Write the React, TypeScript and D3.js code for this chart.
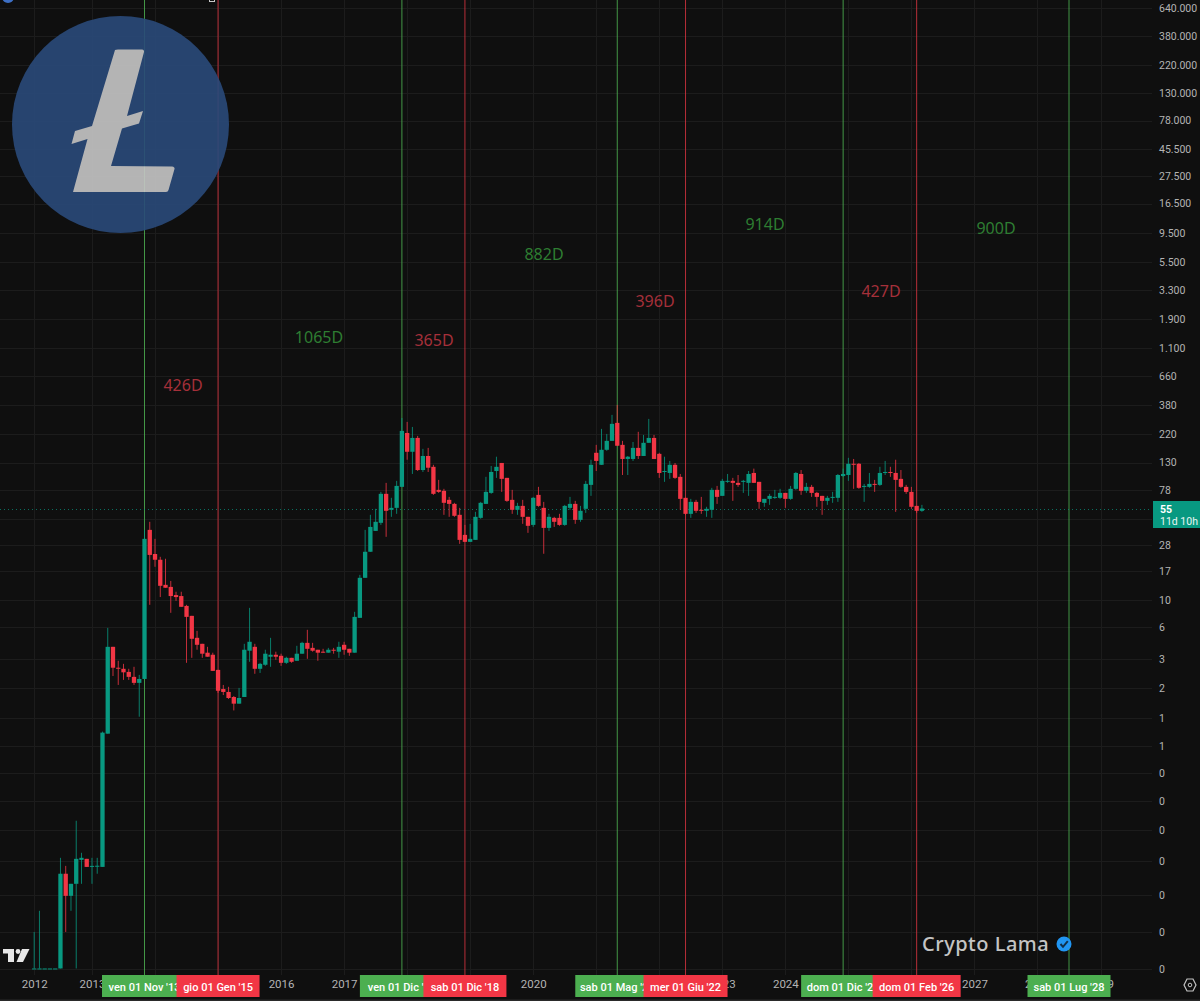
import { useEffect, useRef } from 'react';
import * as d3 from 'd3';

// monthly LTC candles, first bar Feb 2012
const firstMonth = new Date(2012, 1, 1);

const opens = [
  0.0101, 0.0101, 0.0101, 0.0101, 0.0101, 0.0101, 0.0594, 0.0393, 0.0492, 0.077,
  0.0785, 0.068, 0.0688, 0.0675, 0.816, 4.14, 2.8, 2.745, 2.59, 2.36,
  2.11, 2.27, 36.9, 23.5, 21.1, 13.2, 12.7, 10.9, 10.7, 8.9,
  7.39, 4.9, 4.38, 3.71, 3.57, 2.69, 1.88, 1.78, 1.62, 1.43,
  1.62, 3.85, 4.14, 2.745, 2.96, 3.44, 3.57, 3.5, 3.07, 3.37,
  3.19, 3.64, 4.46, 4.06, 3.92, 3.78, 3.71, 3.92, 3.78, 4.3,
  3.99, 3.71, 7.12, 15.05, 24.5, 36.2, 42.1, 72.4, 53.7, 55.7,
  82.5, 226, 159, 206, 113, 147, 120, 78, 76.6, 64.7,
  60, 48.9, 33.6, 29.5, 30.6, 46.2, 60, 73.7, 111, 129,
  97.6, 64.7, 53.7, 57.8, 47.1, 40.5, 71, 55.7, 38.3, 46.2,
  46.2, 40.5, 55.7, 60, 44.5, 54.7, 85.6, 156, 124.6, 165,
  195, 273, 181, 139, 139, 171, 147, 188, 206, 153,
  109, 107, 124.6, 99.5, 67.2, 49.8, 62.3, 53.7, 52.7, 53.7,
  78, 69.7, 90.6, 92.3, 88.9, 90.6, 88.9, 107, 90.6, 61.2,
  65.9, 67.2, 67.2, 73.7, 65.9, 79.5, 105, 76.6, 82.5, 73.7,
  69.7, 63.5, 67.2, 67.2, 101, 103, 127, 127, 82.5, 82.5,
  87.2, 85.6, 107, 109, 107, 95.8, 82.5, 75.1, 57.8, 52.7,
];
const highs = [
  0.02, 0.0297, 0.0101, 0.0101, 0.0101, 0.08, 0.0688, 0.0492, 0.16, 0.0879,
  0.0785, 0.08, 0.08, 0.848, 5.9, 4.14, 3.19, 3.01, 2.745, 2.85,
  2.45, 36.9, 42.9, 31.2, 22.3, 21.5, 14.2, 11.6, 11.6, 9.08,
  7.39, 5.58, 4.38, 4.14, 3.71, 2.69, 2.03, 1.96, 1.65, 1.92,
  4.38, 8.58, 4.38, 3.07, 3.92, 4.9, 3.78, 3.64, 3.44, 3.37,
  4.22, 4.55, 5.69, 4.46, 3.92, 3.99, 4.06, 4.06, 4.55, 4.55,
  3.99, 7.97, 15.9, 36.9, 48.9, 54.7, 75.1, 88.9, 67.2, 92.3,
  299, 278, 253, 214, 168, 171, 124.6, 94, 79.5, 68.4,
  61.2, 55.7, 40.5, 41.3, 51.7, 62.3, 99.5, 122, 145, 129,
  97.6, 78, 61.2, 64.7, 47.1, 68.4, 82.5, 62.3, 49.8, 47.1,
  49.8, 58.9, 68.4, 63.5, 57.8, 92.3, 137, 181, 244, 222,
  317, 382, 195, 147, 191, 231, 218, 294, 218, 156,
  145, 134, 129, 105, 67.2, 65.9, 64.7, 68.4, 56.8, 81,
  84, 95.8, 105, 97.6, 103, 94, 111, 116, 90.6, 65.9,
  72.4, 78, 79.5, 73.7, 84, 109, 113, 88.9, 85.6, 75.1,
  69.7, 69.7, 75.1, 105, 116, 142, 139, 129, 87.2, 107,
  94, 120, 134, 120, 137, 113, 85.6, 82.5, 57.8, 58.9,
];
const lows = [
  0.0101, 0.0101, 0.0101, 0.0101, 0.0101, 0.0101, 0.02, 0.0297, 0.0101, 0.0492,
  0.0675, 0.0492, 0.0594, 0.0675, 0.816, 2.4, 2.03, 2.23, 2.23, 2.03,
  1.12, 2.27, 9.08, 18.5, 10.5, 12.5, 7.82, 9.78, 8.75, 3.07,
  3.37, 3.92, 3.37, 3.44, 2.64, 1.75, 1.68, 1.56, 1.26, 1.43,
  1.62, 3.13, 2.5, 2.54, 2.9, 2.85, 3.25, 2.9, 3.01, 3.07,
  3.19, 3.64, 3.31, 3.78, 3.19, 3.71, 3.71, 3.64, 3.37, 3.57,
  3.5, 3.71, 7.12, 15.05, 24.5, 36.2, 40.5, 32.4, 47.1, 49.8,
  82.5, 137, 105, 111, 109, 109, 71, 73.7, 48.9, 47.1,
  47.1, 28.4, 29.5, 29.5, 30.6, 45.4, 60, 72.4, 97.6, 75.1,
  62.3, 49.8, 48.9, 41.3, 34.9, 39, 56.8, 23.6, 36.2, 39,
  39.8, 39.8, 53.7, 41.3, 42.9, 50.7, 69.7, 111, 124.6, 162,
  195, 178, 103, 103, 134, 139, 147, 188, 139, 97.6,
  90.6, 95.8, 95.8, 53.7, 48.9, 46.2, 50.7, 49.8, 47.1, 46.2,
  60, 69.7, 88.9, 63.5, 82.5, 73.7, 69.7, 88.9, 54.7, 56.8,
  58.9, 65.9, 65.9, 55.7, 64.7, 78, 71, 73.7, 68.4, 56.8,
  48.9, 58.9, 61.2, 62.3, 99.5, 92.3, 79.5, 79.5, 62.3, 81,
  75.1, 84, 103, 99.5, 51.7, 81, 72.4, 54.7, 50.7, 51.7,
];
const closes = [
  0.0101, 0.0101, 0.0101, 0.0101, 0.0101, 0.0594, 0.0393, 0.0492, 0.0785, 0.08,
  0.0675, 0.0688, 0.069, 0.832, 4.14, 2.8, 2.79, 2.57, 2.36, 2.11,
  2.27, 31.2, 23.1, 21.1, 12.96, 12.5, 10.7, 10.5, 8.75, 7.25,
  4.81, 4.3, 3.64, 3.44, 2.64, 1.82, 1.78, 1.59, 1.43, 1.59,
  3.92, 4.55, 2.745, 3.01, 3.64, 3.57, 3.44, 3.07, 3.37, 3.13,
  3.64, 4.46, 3.99, 3.85, 3.71, 3.76, 3.92, 3.85, 4.14, 3.92,
  3.71, 7.25, 15.05, 24.5, 39, 42.9, 72.4, 52.7, 55.7, 84,
  235, 159, 206, 113, 147, 118, 72.4, 75.1, 61.2, 60,
  48, 30.6, 29.5, 31.2, 47.1, 61.2, 75.1, 109, 120, 95.8,
  63.5, 53.7, 57.8, 47.1, 39.8, 67.2, 57.8, 38.3, 47.1, 42.9,
  40.5, 57.8, 60, 44.5, 52.7, 87.2, 124.6, 134, 165, 195,
  268, 178, 139, 145, 171, 147, 188, 206, 139, 107,
  111, 124.6, 97.6, 65.9, 49.8, 62.3, 52.7, 52.7, 54.7, 78,
  68.4, 92.3, 92.3, 88.9, 85.6, 92.3, 105, 88.9, 62.3, 65.9,
  69.7, 68.4, 73.7, 65.9, 79.5, 107, 76.6, 82.5, 73.7, 68.4,
  63.5, 67.2, 68.4, 103, 105, 127, 126, 81, 84, 87.2,
  85.6, 107, 109, 107, 94, 82.5, 75.1, 56.8, 52.7, 55,
];

const priceTicks = [
  640000, 380000, 220000, 130000, 78000, 45500, 27500, 16500, 9500, 5500, 3300, 1900, 1100, 660, 380, 220, 130, 78, 45,
  28, 17, 10, 6, 3.3, 1.9, 1.1, 0.65, 0.39, 0.23, 0.135, 0.075, 0.04, 0.02, 0.01,
];
const yearTicks = [2012, 2013, 2014, 2015, 2016, 2017, 2018, 2019, 2020, 2021, 2022, 2023, 2024, 2025, 2026, 2027, 2028, 2029];

// cycle markers, drawn in this order so the later tag covers the earlier one
const cycleDates = [
  new Date(2013, 10, 1),
  new Date(2015, 0, 1),
  new Date(2017, 11, 1),
  new Date(2018, 11, 1),
  new Date(2021, 4, 1),
  new Date(2022, 5, 1),
  new Date(2024, 11, 1),
  new Date(2026, 1, 1),
  new Date(2028, 6, 1),
];
const cycleLabels = [
  "ven 01 Nov '13",
  "gio 01 Gen '15",
  "ven 01 Dic '17",
  "sab 01 Dic '18",
  "sab 01 Mag '21",
  "mer 01 Giu '22",
  "dom 01 Dic '24",
  "dom 01 Feb '26",
  "sab 01 Lug '28",
];
const cycleKinds = ['up', 'down', 'up', 'down', 'up', 'down', 'up', 'down', 'up'];
const durationLabels = ['426D', '1065D', '365D', '882D', '396D', '914D', '427D', '900D'];
const durationKinds = ['down', 'up', 'down', 'up', 'down', 'up', 'down', 'up'];

const lastPrice = 55;

const WIDTH = 1200;
const HEIGHT = 1001;
const PLOT_RIGHT = 1152;
const FONT = '"Noto Sans", sans-serif';
const AXIS_FONT = 'Roboto, sans-serif';
const UP = '#089981';
const DOWN = '#f23645';

export default function App() {
  const svgRef = useRef<SVGSVGElement>(null);

  useEffect(() => {
    if (!svgRef.current) return;
    const svg = d3.select(svgRef.current);
    svg.selectAll('*').remove();

    const x = d3.scaleLinear().domain([0, 197]).range([34.2, 1069]);
    const y = d3.scaleLog().domain([0.01, 640000]).range([969, 8]);
    const monthIdx = (d: Date) => d3.timeMonth.count(firstMonth, d);
    const yearIdx = (yr: number) => Math.max(0, monthIdx(new Date(yr, 0, 1)));
    const it = d3.formatLocale({ decimal: ',', thousands: '.', grouping: [3], currency: ['€', ''] }).format(',.0f');

    svg.append('rect').attr('width', WIDTH).attr('height', HEIGHT).attr('fill', '#0f0f0f');

    // grid
    const grid = svg.append('g').attr('stroke', '#1c1c1c').attr('stroke-width', 1);
    grid
      .selectAll('line.h')
      .data(priceTicks)
      .join('line')
      .attr('class', 'h')
      .attr('x1', 0)
      .attr('x2', PLOT_RIGHT)
      .attr('y1', (d) => Math.round(y(d)) + 0.5)
      .attr('y2', (d) => Math.round(y(d)) + 0.5);
    grid
      .selectAll('line.v')
      .data(yearTicks)
      .join('line')
      .attr('class', 'v')
      .attr('x1', (d) => Math.round(x(yearIdx(d))) + 0.5)
      .attr('x2', (d) => Math.round(x(yearIdx(d))) + 0.5)
      .attr('y1', 0)
      .attr('y2', 975);

    // cycle lines
    svg
      .append('g')
      .selectAll('line')
      .data(cycleDates)
      .join('line')
      .attr('x1', (d) => x(monthIdx(d)))
      .attr('x2', (d) => x(monthIdx(d)))
      .attr('y1', 0)
      .attr('y2', 975)
      .attr('stroke', (_, i) => (cycleKinds[i] === 'up' ? '#4caf50' : '#d5343f'))
      .attr('stroke-opacity', 0.85)
      .attr('stroke-width', 1);

    // last price line
    const lastY = Math.round(y(lastPrice)) + 0.5;
    svg
      .append('line')
      .attr('x1', 0)
      .attr('x2', PLOT_RIGHT)
      .attr('y1', lastY)
      .attr('y2', lastY)
      .attr('stroke', UP)
      .attr('stroke-opacity', 0.7)
      .attr('stroke-dasharray', '1 3');

    // candles
    const bars = d3.range(opens.length);
    const candles = svg.append('g');
    candles
      .selectAll('line')
      .data(bars)
      .join('line')
      .attr('x1', (i) => x(i))
      .attr('x2', (i) => x(i))
      .attr('y1', (i) => y(highs[i]))
      .attr('y2', (i) => y(lows[i]))
      .attr('stroke', (i) => (closes[i] >= opens[i] ? UP : DOWN))
      .attr('stroke-opacity', 0.8)
      .attr('stroke-width', 1);
    candles
      .selectAll('rect')
      .data(bars)
      .join('rect')
      .attr('x', (i) => x(i) - 2.15)
      .attr('width', 4.3)
      .attr('y', (i) => y(Math.max(opens[i], closes[i])))
      .attr('height', (i) => Math.max(1, Math.abs(y(opens[i]) - y(closes[i]))))
      .attr('fill', (i) => (closes[i] >= opens[i] ? UP : DOWN));

    // duration notes
    const noteX = [183, 319, 434, 544, 655, 765, 881, 996];
    const noteY = [385, 337, 340, 254, 301, 224, 291, 228];
    svg
      .append('g')
      .attr('font-family', FONT)
      .attr('font-size', 16)
      .attr('text-anchor', 'middle')
      .selectAll('text')
      .data(durationLabels)
      .join('text')
      .attr('x', (_, i) => noteX[i])
      .attr('y', (_, i) => noteY[i] + 6)
      .attr('fill', (_, i) => (durationKinds[i] === 'up' ? '#2e7d32' : '#a5303a'))
      .text((d) => d);

    // logo
    const logo = svg.append('g').attr('opacity', 0.9);
    logo.append('circle').attr('cx', 120.5).attr('cy', 124.5).attr('r', 108.5).attr('fill', '#2a4a7a');
    logo
      .append('path')
      .attr(
        'd',
        'M115 50 Q116 49.5 118 49.5 L142 49.5 Q144.5 50 144 52 L127 116 L143 111 L139 123.5 L122 128.5 L111 166 L172 166.5 Q175 167 174.5 169 L168.5 190 Q168 192 166 192 L73 192 L87.5 139 L71.5 144 L75 131 L92 126 Z',
      )
      .attr('fill', '#c6c6c6');

    // axes
    const yAxis = d3
      .axisRight(y)
      .tickValues(priceTicks)
      .tickFormat((d) => it(+d))
      .tickSize(0)
      .tickPadding(7);
    const yG = svg.append('g').attr('transform', `translate(${PLOT_RIGHT},0)`).call(yAxis);
    yG.select('.domain').remove();
    yG.selectAll('text').attr('fill', '#b4b4b4').attr('font-family', AXIS_FONT).attr('font-size', 10.5);

    const xAxis = d3
      .axisBottom(x)
      .tickValues(yearTicks.map(yearIdx))
      .tickFormat((_, i) => String(yearTicks[i]))
      .tickSize(0)
      .tickPadding(0);
    const xG = svg.append('g').attr('transform', 'translate(0,980)').call(xAxis);
    xG.select('.domain').remove();
    xG.selectAll('text').attr('fill', '#b4b4b4').attr('font-family', AXIS_FONT).attr('font-size', 11.5);

    // date tags on the time axis
    const tagW = [85, 83, 84, 83, 84, 84, 84, 88, 83];
    const tags = svg.append('g').attr('font-family', AXIS_FONT).attr('font-size', 11).attr('font-weight', 500);
    cycleDates.forEach((d, i) => {
      const cx = x(monthIdx(d));
      tags
        .append('rect')
        .attr('x', cx - tagW[i] / 2)
        .attr('y', 975)
        .attr('width', tagW[i])
        .attr('height', 22)
        .attr('fill', cycleKinds[i] === 'up' ? '#4caf50' : '#f23645');
      tags
        .append('text')
        .attr('x', cx)
        .attr('y', 991)
        .attr('text-anchor', 'middle')
        .attr('fill', '#fff')
        .text(cycleLabels[i]);
    });

    // last price tag, covers the hidden 45 tick
    svg.append('rect').attr('x', 1153).attr('y', 501).attr('width', 47).attr('height', 27).attr('fill', UP);
    svg
      .append('text')
      .attr('x', 1160)
      .attr('y', 513)
      .attr('font-family', AXIS_FONT)
      .attr('font-size', 10.5)
      .attr('font-weight', 700)
      .attr('fill', '#fff')
      .text(it(lastPrice));
    svg
      .append('text')
      .attr('x', 1160)
      .attr('y', 525)
      .attr('font-family', AXIS_FONT)
      .attr('font-size', 10.5)
      .attr('fill', '#eaf6f3')
      .text('11d 10h');

    // watermark
    svg
      .append('text')
      .attr('x', 922)
      .attr('y', 951)
      .attr('font-family', FONT)
      .attr('font-size', 20)
      .attr('font-weight', 500)
      .attr('letter-spacing', 0.5)
      .attr('fill', '#c4c4c4')
      .text('Crypto Lama');
    svg.append('circle').attr('cx', 1064).attr('cy', 944).attr('r', 7.5).attr('fill', '#2196f3');
    svg
      .append('path')
      .attr('d', 'M1060.5 944 L1063 946.8 L1067.8 941.2')
      .attr('fill', 'none')
      .attr('stroke', '#12304a')
      .attr('stroke-width', 2);

    // TradingView mark
    const tv = svg.append('g').attr('fill', '#e6e6e6');
    tv.append('path').attr('d', 'M3 949 H14 V962 H8 V953.5 H3 Z');
    tv.append('circle').attr('cx', 18).attr('cy', 951.5).attr('r', 2.4);
    tv.append('path').attr('d', 'M22 949 H29.5 L23 962 H16.5 Z');

    // bits of toolbar at the top edge
    svg.append('circle').attr('cx', 8).attr('cy', -3).attr('r', 6).attr('fill', '#3d6fc4');
    svg
      .append('rect')
      .attr('x', 209.5)
      .attr('y', -2)
      .attr('width', 5)
      .attr('height', 3.5)
      .attr('fill', 'none')
      .attr('stroke', '#c8c8c8');

    // settings icon, bottom right
    svg
      .append('path')
      .attr('d', 'M1184 985 L1187 979 L1193 979 L1196 985 L1193 991 L1187 991 Z')
      .attr('fill', 'none')
      .attr('stroke', '#c4c4c4')
      .attr('stroke-width', 1.2);
    svg.append('circle').attr('cx', 1190).attr('cy', 985).attr('r', 1.8).attr('fill', 'none').attr('stroke', '#c4c4c4');
    svg.append('rect').attr('y', 999.5).attr('width', WIDTH).attr('height', 1.5).attr('fill', '#2a2a2a');
  }, []);

  return (
    <svg
      ref={svgRef}
      width={WIDTH}
      height={HEIGHT}
      style={{ position: 'fixed', left: 0, top: 0, display: 'block' }}
    />
  );
}
